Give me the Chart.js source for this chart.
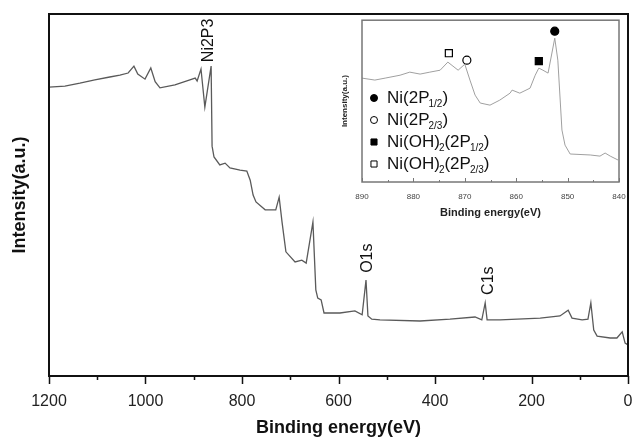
<!DOCTYPE html>
<html>
<head>
<meta charset="utf-8">
<script src="https://cdn.jsdelivr.net/npm/chart.js@4.4.0/dist/chart.umd.min.js"></script>
<style>
  html, body { margin: 0; padding: 0; background: #fff; }
  #wrap { position: relative; width: 632px; height: 440px; }
  #mainChart { position: absolute; left: 0; top: 0; }
  #insetChart { position: absolute; left: 330px; top: 14px; }
</style>
</head>
<body>
<div id="wrap">
  <canvas id="mainChart" width="632" height="440"></canvas>
  <canvas id="insetChart" width="296" height="210"></canvas>
</div>
<script>
// survey spectrum (binding energy in eV, intensity in a.u.)
const surveyEnergy = [1200, 1167, 1136, 1105, 1074, 1053, 1036, 1024, 1016, 1001, 989, 980, 970, 939, 908, 897, 893, 885, 877, 864,
  862, 858, 846, 835, 825, 804, 790, 783, 777, 771, 752, 730, 723, 717, 709, 690, 676, 667, 653, 647, 643, 636, 630,
  597, 566, 551, 543, 539, 531, 514, 431, 369, 317, 303, 296, 292, 265, 182, 141, 124, 116, 95, 83, 77, 71, 64, 37, 23, 12, 6, 0];
const surveyIntensity = [79.8, 80.1, 80.9, 81.8, 82.6, 83.1, 83.7, 85.6, 83.4, 82.0, 85.1, 81.3, 79.6, 80.4, 81.8, 82.3, 81.5, 84.8, 74.3, 85.6,
  63.5, 60.5, 58.3, 58.8, 57.5, 56.9, 56.6, 54.1, 50.0, 48.1, 45.9, 45.9, 49.4, 42.5, 34.3, 31.5, 32.0, 31.2, 42.5, 23.8, 21.5, 21.0, 17.4,
  17.4, 18.0, 16.9, 26.5, 16.6, 15.7, 15.5, 15.2, 15.7, 16.3, 15.5, 20.2, 15.5, 15.5, 16.0, 16.6, 18.2, 16.0, 15.5, 15.7, 20.2, 12.7, 11.0, 10.5, 10.5, 12.2, 9.1, 8.6];

// peak labels on the survey
const surveyPeakNames = ['Ni2P3', 'O1s', 'C1s'];
const surveyPeakEnergy = [870, 539, 288];
const surveyPeakLabelY = [86.7, 28.5, 22.4];

// Ni 2p high resolution (inset)
const insetEnergy = [890, 887.5, 885.5, 882.6, 880.7, 878.7, 876.8, 874.8, 873.3, 872.3, 871.3, 870.0, 869.0, 868.0, 867.0, 865.1, 863.2,
  861.2, 860.8, 859.3, 857.3, 856.3, 855.6, 854.8, 853.8, 852.5, 851.9, 851.1, 850.5, 849.5, 845.6, 843.7, 842.7, 841.7, 840.2];
const insetIntensity = [64.2, 63.0, 64.2, 66.0, 67.9, 66.7, 67.9, 69.1, 74.1, 71.6, 69.1, 72.8, 63.0, 53.7, 48.8, 47.5, 50.6,
  54.9, 56.8, 54.9, 58.0, 66.0, 70.4, 69.1, 67.3, 88.9, 75.3, 32.1, 22.8, 17.3, 16.7, 16.0, 17.9, 16.0, 13.6];

// peak markers of the inset ( _{..} = subscript )
const peakLabels = ['Ni(2P_{1/2})', 'Ni(2P_{2/3})', 'Ni(OH)_{2}(2P_{1/2})', 'Ni(OH)_{2}(2P_{2/3})'];
const peakEnergy = [852.5, 869.6, 855.6, 873.1];
const peakMarkY = [93.2, 75.3, 74.7, 79.6];
const peakStyle = ['circle', 'circle', 'rect', 'rect'];
const peakFilled = [true, false, true, false];

const xTicksMain = [1200, 1000, 800, 600, 400, 200, 0];
const xTicksInset = [890, 880, 870, 860, 850, 840];

Chart.defaults.font.family = '"Liberation Sans", Arial, sans-serif';
Chart.defaults.color = '#222';

const toPoints = (xs, ys) => xs.map((x, i) => ({ x: x, y: ys[i] }));

// frame round the plot area + major/minor tick marks on the bottom axis
function frameTicks(name, o) {
    return {
        id: 'frameTicks' + name,
        afterDraw(chart) {
            const { ctx, chartArea: a, scales: { x } } = chart;
            ctx.save();
            ctx.strokeStyle = o.frameColor;
            ctx.lineWidth = o.frameWidth;
            ctx.strokeRect(a.left, a.top, a.right - a.left, a.bottom - a.top);
            ctx.lineWidth = o.tickWidth;
            ctx.beginPath();
            for (let v = x.min; v <= x.max + 0.001; v += o.minor) {
                const px = Math.round(x.getPixelForValue(v)) + 0.5;
                const len = (Math.abs(v % o.major) < 0.001 ? o.majorLen : o.minorLen) * o.dir;
                ctx.moveTo(px, a.bottom);
                ctx.lineTo(px, a.bottom + len);
            }
            ctx.stroke();
            ctx.restore();
        }
    };
}

// rotated peak names on the survey
const peakNamesPlugin = {
    id: 'peakNames',
    afterDatasetsDraw(chart) {
        const { ctx, scales: { x, y } } = chart;
        ctx.save();
        ctx.fillStyle = '#111';
        ctx.font = '16px "Liberation Sans", Arial, sans-serif';
        ctx.textAlign = 'left';
        ctx.textBaseline = 'middle';
        surveyPeakNames.forEach((name, i) => {
            ctx.save();
            ctx.translate(x.getPixelForValue(surveyPeakEnergy[i]), y.getPixelForValue(surveyPeakLabelY[i]));
            ctx.rotate(-Math.PI / 2);
            ctx.fillText(name, 0, 0);
            ctx.restore();
        });
        ctx.restore();
    }
};

// legend with subscripts for the inset
function drawRich(ctx, text, x, y) {
    const parts = text.split(/(_\{[^}]*\})/).filter(p => p.length);
    parts.forEach(p => {
        if (p.startsWith('_{')) {
            const s = p.slice(2, -1);
            ctx.font = '10px "Liberation Sans", Arial, sans-serif';
            ctx.fillText(s, x - 1, y + 6);
            x += ctx.measureText(s).width - 1;
        } else {
            ctx.font = '17px "Liberation Sans", Arial, sans-serif';
            ctx.fillText(p, x, y);
            x += ctx.measureText(p).width;
        }
    });
}

const insetLegendPlugin = {
    id: 'insetLegend',
    afterDraw(chart) {
        const ctx = chart.ctx;
        ctx.save();
        ctx.textBaseline = 'middle';
        ctx.textAlign = 'left';
        peakLabels.forEach((label, i) => {
            const ly = 84 + i * 22;
            ctx.fillStyle = peakFilled[i] ? '#000' : '#fff';
            ctx.strokeStyle = '#000';
            ctx.lineWidth = 1;
            const r = peakStyle[i] === 'rect' ? 4.3 : 3.5;
            Chart.helpers.drawPoint(ctx, { pointStyle: peakStyle[i], radius: r, rotation: 0, borderWidth: 1 }, 44, ly);
            ctx.fillStyle = '#111';
            drawRich(ctx, label, 57, ly);
        });
        ctx.restore();
    }
};

// keep the plot area fixed: no extra room for the end labels
const noLabelPadding = s => { s.paddingLeft = 0; s.paddingRight = 0; };

new Chart(document.getElementById('mainChart'), {
    type: 'line',
    data: {
        datasets: [{
            data: toPoints(surveyEnergy, surveyIntensity),
            borderColor: '#5a5a5a',
            borderWidth: 1.3,
            pointRadius: 0,
            tension: 0
        }]
    },
    options: {
        responsive: false,
        animation: false,
        layout: { padding: { top: 14, right: 4, left: 0, bottom: 0 } },
        plugins: { legend: { display: false }, tooltip: { enabled: false } },
        scales: {
            x: {
                type: 'linear', reverse: true, min: 0, max: 1200,
                afterBuildTicks: s => { s.ticks = xTicksMain.map(v => ({ value: v })); },
                afterFit: s => { s.height = 64; noLabelPadding(s); },
                grid: { display: false, drawTicks: false },
                border: { display: false },
                ticks: { padding: 16, font: { size: 16 }, color: '#222', maxRotation: 0, autoSkip: false, callback: v => String(v) },
                title: { display: true, text: 'Binding energy(eV)', font: { size: 18, weight: 'bold' }, color: '#111', padding: { top: 0, bottom: 1 } }
            },
            y: {
                min: 0, max: 100,
                afterFit: s => { s.width = 49; },
                grid: { display: false, drawTicks: false },
                border: { display: false },
                ticks: { display: false },
                title: { display: true, text: 'Intensity(a.u.)', font: { size: 18, weight: 'bold' }, color: '#111', padding: { top: 9, bottom: 0 } }
            }
        }
    },
    plugins: [frameTicks('Main', { frameColor: '#111', frameWidth: 2, tickWidth: 1.5, major: 200, minor: 100, majorLen: 8, minorLen: 4, dir: 1 }), peakNamesPlugin]
});

const markerSets = peakLabels.map((label, i) => ({
    label: label,
    data: [{ x: peakEnergy[i], y: peakMarkY[i] }],
    showLine: false,
    pointStyle: peakStyle[i],
    pointRadius: peakStyle[i] === 'rect' ? 5 : 4,
    backgroundColor: peakFilled[i] ? '#000' : '#fff',
    borderColor: '#000',
    borderWidth: 1.2
}));

new Chart(document.getElementById('insetChart'), {
    type: 'line',
    data: {
        datasets: [{
            data: toPoints(insetEnergy, insetIntensity),
            borderColor: '#a0a0a0',
            borderWidth: 1,
            pointRadius: 0,
            tension: 0
        }].concat(markerSets)
    },
    options: {
        responsive: false,
        animation: false,
        layout: { padding: { top: 6, right: 7, left: 0, bottom: 0 } },
        plugins: { legend: { display: false }, tooltip: { enabled: false } },
        scales: {
            x: {
                type: 'linear', reverse: true, min: 840, max: 890,
                afterBuildTicks: s => { s.ticks = xTicksInset.map(v => ({ value: v })); },
                afterFit: s => { s.height = 42; noLabelPadding(s); },
                grid: { display: false, drawTicks: false },
                border: { display: false },
                ticks: { padding: 10, font: { size: 8 }, color: '#444', maxRotation: 0, autoSkip: false, callback: v => String(v) },
                title: { display: true, text: 'Binding energy(eV)', font: { size: 11, weight: 'bold' }, color: '#222', padding: { top: 0, bottom: 4 } }
            },
            y: {
                min: 0, max: 100,
                afterFit: s => { s.width = 32; },
                grid: { display: false, drawTicks: false },
                border: { display: false },
                ticks: { display: false },
                title: { display: true, text: 'Intensity(a.u.)', font: { size: 8, weight: 'bold' }, color: '#222', padding: { top: 10, bottom: 0 } }
            }
        }
    },
    plugins: [frameTicks('Inset', { frameColor: '#777', frameWidth: 1.5, tickWidth: 1, major: 10, minor: 5, majorLen: 4, minorLen: 2, dir: -1 }), insetLegendPlugin]
});
</script>
</body>
</html>
